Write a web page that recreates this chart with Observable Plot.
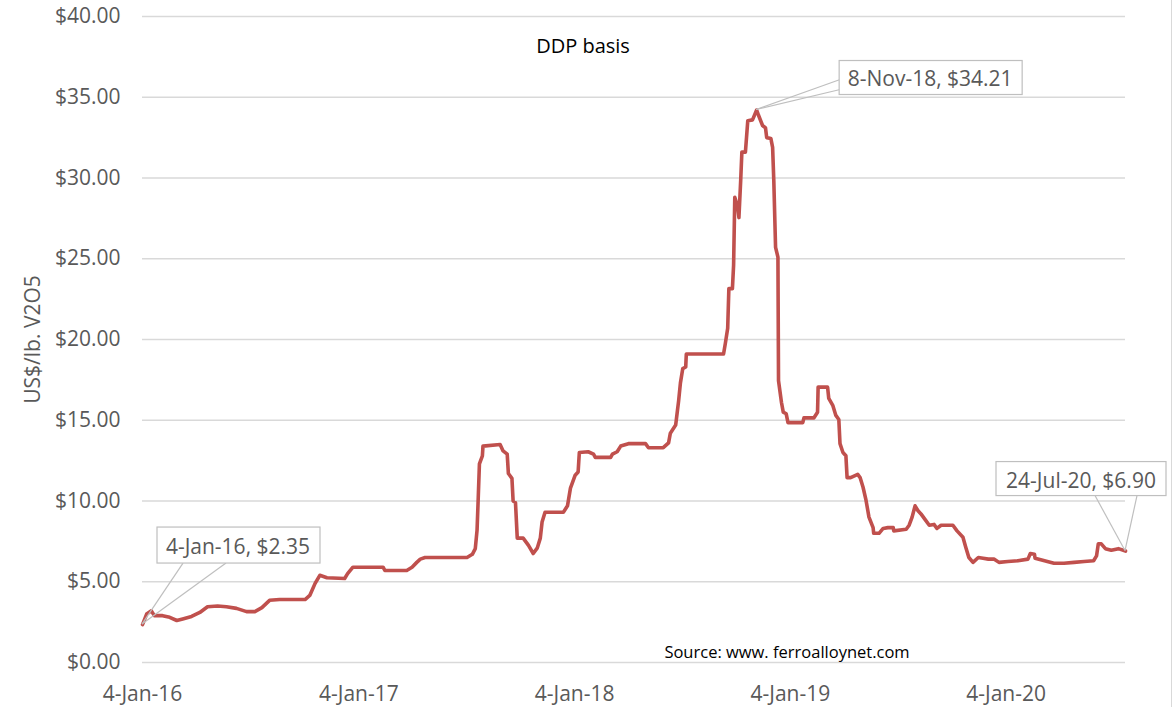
<!DOCTYPE html>
<html><head><meta charset="utf-8">
<script src="https://cdn.jsdelivr.net/npm/d3@7"></script>
<script src="https://cdn.jsdelivr.net/npm/@observablehq/plot@0.6"></script>
<style>
body{margin:0;background:#fff;}
#chart{position:relative;width:1176px;height:707px;overflow:hidden;font-family:"Open Sans",sans-serif;}
#border{position:absolute;left:1171px;top:0;width:1px;height:707px;background:#d9d9d9;}
</style></head><body><div id="chart"><div id="border"></div></div>
<script>
// ---- data ----
const dates = [
"2016-01-04","2016-01-11","2016-01-19","2016-01-24","2016-02-07","2016-02-19","2016-03-02","2016-03-12","2016-03-27","2016-04-10",
"2016-04-23","2016-05-10","2016-05-25","2016-06-11","2016-06-28","2016-07-12","2016-07-24","2016-08-06","2016-08-23","2016-10-05",
"2016-10-13","2016-10-22","2016-10-30","2016-11-11","2016-12-11","2016-12-16","2016-12-25","2017-02-14","2017-02-17","2017-03-26",
"2017-04-04","2017-04-12","2017-04-18","2017-04-26","2017-07-06","2017-07-15","2017-07-20","2017-07-23","2017-07-25","2017-07-27",
"2017-08-01","2017-08-02","2017-08-31","2017-09-05","2017-09-12","2017-09-14","2017-09-20","2017-09-22","2017-09-26","2017-09-29",
"2017-10-09","2017-10-18","2017-10-26","2017-11-02","2017-11-07","2017-11-10","2017-11-15","2017-12-16","2017-12-23","2017-12-28",
"2018-01-05","2018-01-10","2018-01-12","2018-01-27","2018-02-05","2018-02-08","2018-03-06","2018-03-09","2018-03-17","2018-03-23",
"2018-04-05","2018-05-04","2018-05-09","2018-06-03","2018-06-12","2018-06-15","2018-06-24","2018-06-27","2018-06-29","2018-07-02",
"2018-07-06","2018-07-11","2018-07-12","2018-09-13","2018-09-16","2018-09-20","2018-09-22","2018-09-28","2018-09-30","2018-10-02",
"2018-10-07","2018-10-09","2018-10-12","2018-10-14","2018-10-20","2018-10-24","2018-11-01","2018-11-08","2018-11-11","2018-11-18",
"2018-11-23","2018-11-25","2018-12-02","2018-12-05","2018-12-07","2018-12-10","2018-12-14","2018-12-15","2018-12-20","2018-12-23",
"2018-12-28","2018-12-31","2019-01-25","2019-01-27","2019-02-13","2019-02-19","2019-02-20","2019-03-08","2019-03-10","2019-03-17",
"2019-03-22","2019-03-27","2019-03-29","2019-04-03","2019-04-08","2019-04-10","2019-04-16","2019-04-28","2019-05-02","2019-05-07",
"2019-05-12","2019-05-17","2019-05-24","2019-05-25","2019-06-03","2019-06-10","2019-06-18","2019-06-27","2019-06-28","2019-07-19",
"2019-07-24","2019-07-29","2019-08-03","2019-08-08","2019-08-13","2019-08-21","2019-08-27","2019-09-04","2019-09-09","2019-09-16",
"2019-10-06","2019-10-13","2019-10-23","2019-10-28","2019-11-02","2019-11-09","2019-11-18","2019-11-26","2019-12-05","2019-12-15",
"2019-12-23","2020-01-07","2020-01-24","2020-02-10","2020-02-14","2020-02-21","2020-02-22","2020-03-09","2020-03-25","2020-04-11",
"2020-04-28","2020-05-15","2020-05-31","2020-06-05","2020-06-08","2020-06-13","2020-06-20","2020-06-30","2020-07-12","2020-07-24"
];
const prices = [
2.35,3.0,3.2,2.9,2.9,2.8,2.6,2.7,2.85,3.1,
3.45,3.5,3.45,3.35,3.15,3.15,3.4,3.85,3.9,3.9,
4.15,4.9,5.4,5.25,5.2,5.5,5.9,5.9,5.7,5.7,
5.9,6.2,6.4,6.5,6.5,6.7,7.05,8.2,10.2,12.3,
12.8,13.4,13.5,13.1,12.9,11.7,11.4,10.0,9.9,7.7,
7.7,7.25,6.75,7.1,7.7,8.7,9.3,9.3,9.7,10.8,
11.6,11.8,13.0,13.05,12.9,12.7,12.7,12.9,13.05,13.4,
13.55,13.55,13.3,13.3,13.6,14.2,14.7,15.6,16.2,17.3,
18.2,18.3,19.1,19.1,19.75,20.7,23.15,23.15,24.6,28.8,
28.2,27.55,29.85,31.6,31.6,33.55,33.6,34.21,33.9,33.25,
33.1,32.5,32.45,31.9,29.85,25.7,25.1,17.45,16.1,15.5,
15.4,14.85,14.85,15.15,15.15,15.5,17.05,17.05,16.35,15.9,
15.3,15.05,13.55,13.0,12.8,11.45,11.45,11.65,11.45,10.85,
10.05,9.0,8.35,8.0,8.0,8.3,8.35,8.35,8.15,8.25,
8.5,9.0,9.7,9.4,9.2,8.8,8.5,8.55,8.3,8.5,
8.5,8.15,7.75,7.1,6.5,6.2,6.5,6.45,6.4,6.4,
6.2,6.25,6.3,6.4,6.75,6.7,6.45,6.3,6.15,6.15,
6.2,6.25,6.3,6.6,7.35,7.35,7.05,6.95,7.05,6.90
];
const xTickDates = ["2016-01-04","2017-01-04","2018-01-04","2019-01-04","2020-01-04"];
const yTicks = [0,5,10,15,20,25,30,35,40];
const calloutDates = ["2016-01-04","2018-11-08","2020-07-24"];
const calloutValues = [2.35,34.21,6.90];
const calloutLabels = ["4-Jan-16, $2.35","8-Nov-18, $34.21","24-Jul-20, $6.90"];
const subtitle = "DDP basis";
const yLabel = "US$/lb. V2O5";
const sourceNote = "Source: www. ferroalloynet.com";

// ---- build ----
const parse = d3.utcParse("%Y-%m-%d");
const data = dates.map((d,i)=>({date: parse(d), price: prices[i]}));

// callout geometry relative to the annotated point (pixels)
const calloutLayout = [
  {box:[15,178,-97,-61], text:[96,-78], tips:[[41,-61],[84,-61]]},
  {box:[83,266,-49,-15], text:[174,-32], tips:[[84,-30],[84,-20]]},
  {box:[-129,41,-89,-55], text:[-44,-71], tips:[[-30,-55],[12,-55]]}
];

function callouts(index, scales) {
  const g = d3.create("svg:g");
  calloutDates.forEach((d,i)=>{
    const px = scales.x(parse(d)), py = scales.y(calloutValues[i]);
    const L = calloutLayout[i];
    L.tips.forEach(([tx,ty]) => g.append("line")
      .attr("x1",px).attr("y1",py).attr("x2",px+tx).attr("y2",py+ty)
      .attr("stroke","#bfbfbf").attr("stroke-width",1.2));
    g.append("rect")
      .attr("x",px+L.box[0]).attr("y",py+L.box[2])
      .attr("width",L.box[1]-L.box[0]).attr("height",L.box[3]-L.box[2])
      .attr("fill","#fff").attr("stroke","#bfbfbf").attr("stroke-width",1.2);
    g.append("text")
      .attr("x",px+L.text[0]).attr("y",py+L.text[1])
      .attr("text-anchor","middle").attr("dominant-baseline","central")
      .attr("font-size",21).attr("fill","#595959")
      .attr("font-family","'Open Sans', sans-serif")
      .text(calloutLabels[i]);
  });
  return g.node();
}

const chart = Plot.plot({
  width: 1176, height: 707,
  marginLeft: 142, marginRight: 51, marginTop: 16, marginBottom: 45,
  style: {fontFamily: "'Open Sans', sans-serif", fontSize: "21px", color: "#595959", background: "transparent", overflow: "visible"},
  x: {type: "utc", domain: [parse("2016-01-04"), parse("2020-07-24")], label: null},
  y: {domain: [0, 40], label: null},
  marks: [
    Plot.gridY(yTicks, {stroke: "#d9d9d9", strokeOpacity: 1, strokeWidth: 1.3}),
    Plot.axisY({ticks: yTicks, tickFormat: d => "$" + d.toFixed(2), tickSize: 0, tickPadding: 22, label: null}),
    Plot.axisX({ticks: xTickDates.map(parse), tickFormat: d3.utcFormat("%-d-%b-%y"), tickSize: 0, tickPadding: 24, label: null}),
    Plot.line(data, {x: "date", y: "price", stroke: "#C0504D", strokeWidth: 3.6, strokeLinejoin: "round", strokeLinecap: "round"}),
    Plot.text([subtitle], {text: d => d, frameAnchor: "top", dx: -51, dy: 30, fill: "#000", fontSize: 20, lineAnchor: "middle"}),
    Plot.text([sourceNote], {text: d => d, frameAnchor: "bottom", dx: 153, dy: -10, fill: "#000", fontSize: 16.5, lineAnchor: "middle"}),
    Plot.text([yLabel], {text: d => d, frameAnchor: "left", dx: -109, rotate: -90, fill: "#595959", fontSize: 21, textAnchor: "middle", lineAnchor: "middle"}),
    callouts
  ]
});
document.getElementById("chart").appendChild(chart);
</script>
</body></html>
